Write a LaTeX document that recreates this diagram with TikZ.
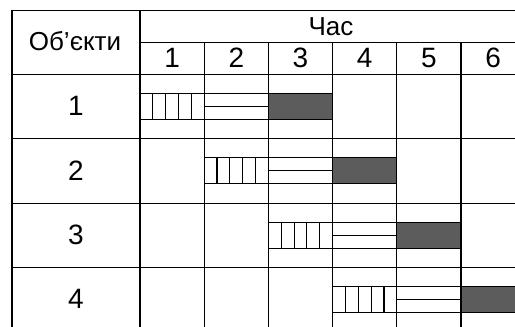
\documentclass[tikz,border=0pt]{standalone}
\usepackage{fontspec}
\setmainfont{Liberation Sans}
\definecolor{barfill}{HTML}{5C5C5C}
\begin{document}
\begin{tikzpicture}[x=1pt,y=-1pt, line width=1.1pt,
  lbl/.style={font=\fontsize{26}{30}\selectfont, inner sep=0pt, anchor=base},
  num/.style={font=\fontsize{28}{32}\selectfont, inner sep=0pt, anchor=base},
  gridline/.style={draw=black, line width=1.1pt},
  barline/.style={draw=black, line width=1.1pt},
  darkbar/.style={draw=black, line width=1.1pt, fill=barfill}]
\useasboundingbox (0,0) rectangle (515,327);
\begin{scope}
\clip (0,0) rectangle (515,327);
% outer grid
\draw[gridline] (12,340) -- (12,10.7) -- (530,10.7);
\draw[gridline] (140,10.7) -- (140,340);
\draw[gridline] (140,42.7) -- (530,42.7);
\draw[gridline] (12,74.5) -- (530,74.5);
\foreach \k in {1,...,5} {
  \draw[gridline] ({140+64.2*\k},42.7) -- ({140+64.2*\k},340);
}
\foreach \i in {1,2,3} {
  \draw[gridline] (12,{74.5+64.4*\i}) -- (530,{74.5+64.4*\i});
}
% bars
\foreach \i in {0,1,2,3} {
  \pgfmathsetmacro{\T}{74.5+64.4*\i}
  \pgfmathsetmacro{\xa}{140+64.2*\i}
  \pgfmathsetmacro{\xb}{\xa+64.2}
  \pgfmathsetmacro{\xc}{\xb+64.2}
  \pgfmathsetmacro{\xd}{\xc+64.2}
  % hatched bar
  \draw[barline] (\xa,{\T+19}) rectangle (\xb,{\T+45});
  \foreach \j in {1,...,4} {
    \draw[barline] ({\xa+12.84*\j},{\T+19}) -- ({\xa+12.84*\j},{\T+45});
  }
  % striped bar
  \draw[barline] (\xb,{\T+19}) rectangle (\xc,{\T+45});
  \draw[barline] (\xb,{\T+32}) -- (\xc,{\T+32});
  % dark bar
  \draw[darkbar] (\xc,{\T+19}) rectangle (\xd,{\T+45});
}
\end{scope}
% texts
\node[lbl] (obj) at (75,50.3) {Об’єкти};
\node[lbl] (time) at (331,35) {Час};
\foreach \k in {1,...,6} {
  \node[num] (h\k) at ({140+64.2*(\k-0.5)},67.7) {\k};
}
\foreach \i in {1,...,4} {
  \node[num] (r\i) at (76,{74.5+64.4*(\i-0.5)+9}) {\i};
}
\end{tikzpicture}
\end{document}
